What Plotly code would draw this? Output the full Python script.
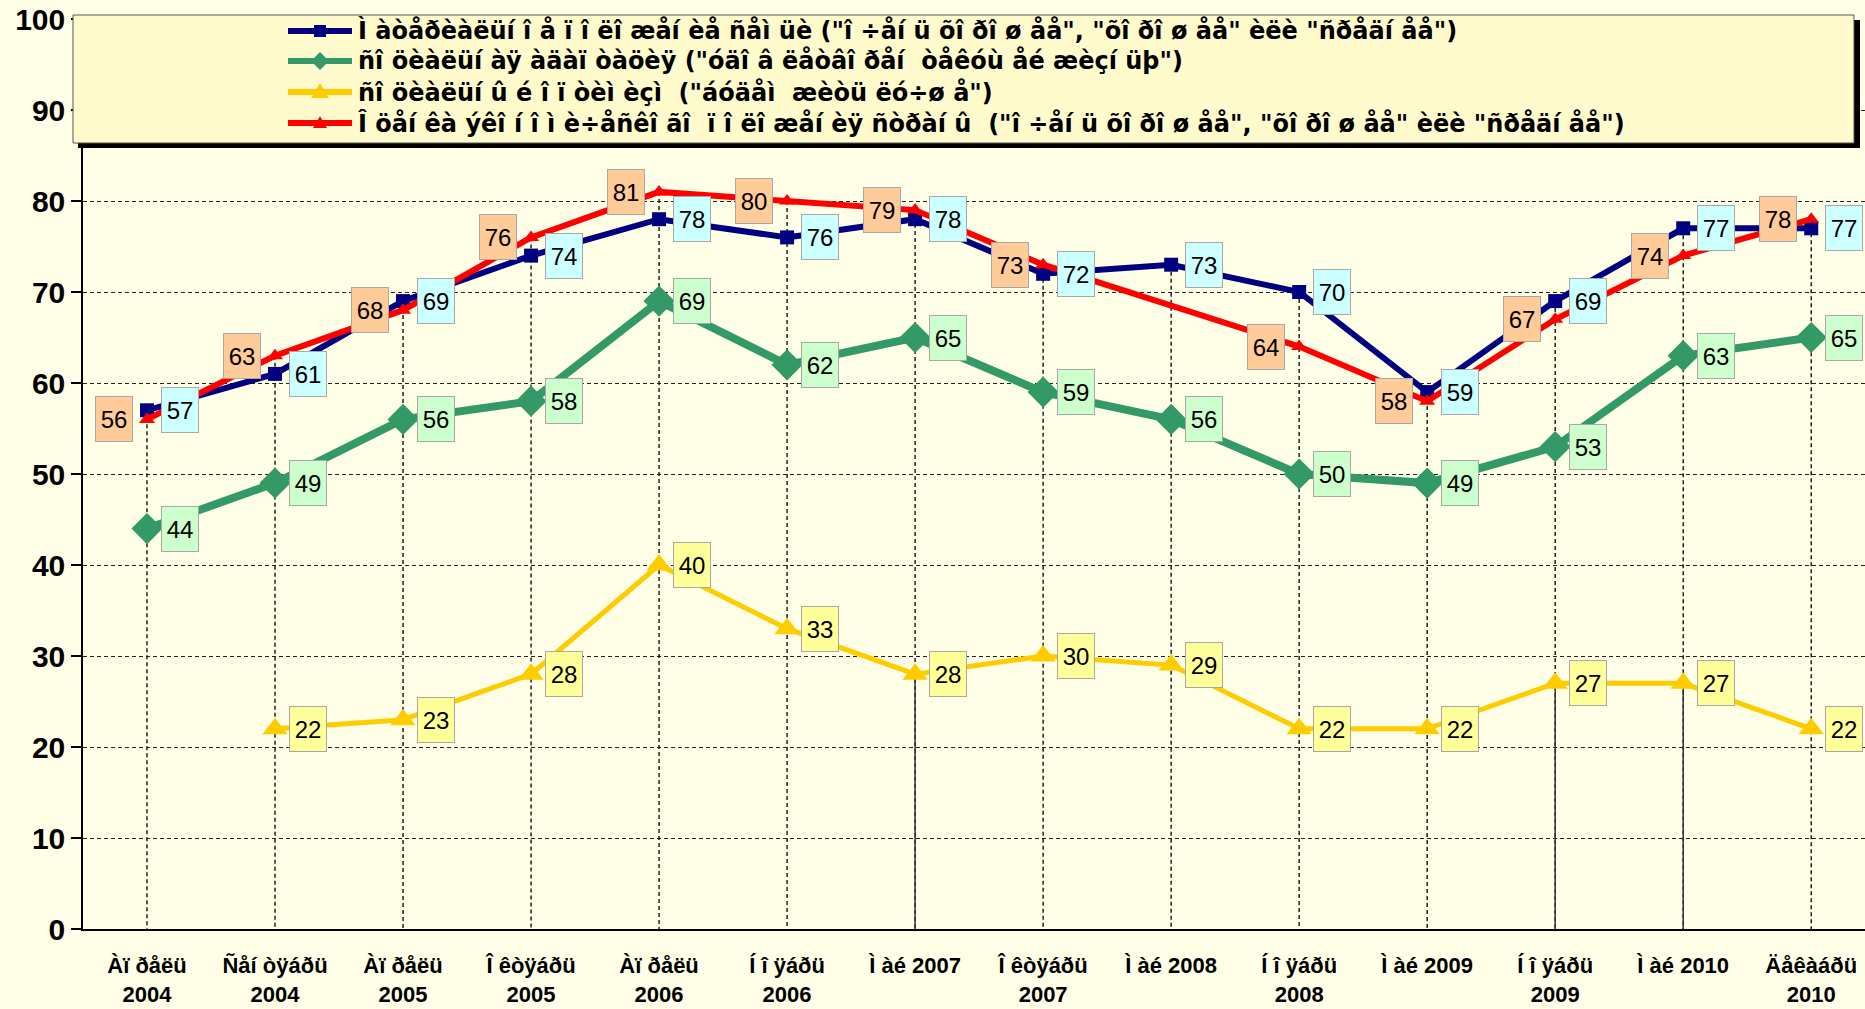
import plotly.graph_objects as go

categories = [
    "Àï ðåëü<br>2004", "Ñåí òÿáðü<br>2004", "Àï ðåëü<br>2005", "Î êòÿáðü<br>2005",
    "Àï ðåëü<br>2006", "Í î ÿáðü<br>2006", "Ì àé 2007", "Î êòÿáðü<br>2007",
    "Ì àé 2008", "Í î ÿáðü<br>2008", "Ì àé 2009", "Í î ÿáðü<br>2009",
    "Ì àé 2010", "Äåêàáðü<br>2010",
]

name_blue = 'Ì àòåðèàëüí î å ï î ëî æåí èå ñåì üè ("î ÷åí ü õî ðî ø åå", "õî ðî ø åå" èëè "ñðåäí åå")'
name_green = 'ñî öèàëüí àÿ àäàï òàöèÿ ("óäî â ëåòâî ðåí  òåêóù åé æèçí üþ")'
name_yellow = 'ñî öèàëüí û é î ï òèì èçì  ("áóäåì  æèòü ëó÷ø å")'
name_red = 'Î öåí êà ýêî í î ì è÷åñêî ãî  ï î ëî æåí èÿ ñòðàí û  ("î ÷åí ü õî ðî ø åå", "õî ðî ø åå" èëè "ñðåäí åå")'

blue = [57, 61, 69, 74, 78, 76, 78, 72, 73, 70, 59, 69, 77, 77]
green = [44, 49, 56, 58, 69, 62, 65, 59, 56, 50, 49, 53, 63, 65]
yellow = [None, 22, 23, 28, 40, 33, 28, 30, 29, 22, 22, 27, 27, 22]
red = [56, 63, 68, 76, 81, 80, 79, 73, None, 64, 58, 67, 74, 78]

solid_drop_cats = ["Ì àé 2007", "Í î ÿáðü<br>2009", "Ì àé 2010"]

y_ticks = [0, 10, 20, 30, 40, 50, 60, 70, 80, 90, 100]

idx = list(range(len(categories)))

W, H = 1865, 1009
ML, MR, MT, MB = 83, 0, 19, 80
PW, PH = W - ML - MR, H - MT - MB


def px(x):
    return (x - ML) / PW


def py(y):
    return (H - MB - y) / PH


fig = go.Figure()

# drop lines (dashed from the highest point)
dx, dy = [], []
for i in idx:
    vals = [s[i] for s in (blue, green, yellow, red) if s[i] is not None]
    dx += [i, i, None]
    dy += [max(vals), 0, None]
fig.add_trace(go.Scatter(x=dx, y=dy, mode="lines", line=dict(color="#222222", width=1.5, dash="4px,3px"),
                         showlegend=False, hoverinfo="skip"))
sx, sy = [], []
for c in solid_drop_cats:
    i = categories.index(c)
    sx += [i, i, None]
    sy += [yellow[i], 0, None]
fig.add_trace(go.Scatter(x=sx, y=sy, mode="lines", line=dict(color="#333333", width=1.5),
                         showlegend=False, hoverinfo="skip"))

series = [
    (name_blue, blue, "#000080", 6, "square", 14, "#CCFFFF", 33),
    (name_green, green, "#339966", 8, "diamond", 24, "#CCFFCC", 33),
    (name_yellow, yellow, "#FFCC00", 5, "triangle-up", 22, "#FFFF99", 33),
    (name_red, red, "#FF0000", 6, "triangle-up", 14, "#FFCC99", -33),
]

for name, vals, col, lw, sym, ms, bg, shift in series:
    fig.add_trace(go.Scatter(
        x=idx, y=vals, name=name, mode="lines+markers", connectgaps=True,
        line=dict(color=col, width=lw),
        marker=dict(symbol=sym, size=ms, color=col, line=dict(width=0)),
        showlegend=False,
    ))
    for i, v in zip(idx, vals):
        if v is None:
            continue
        fig.add_annotation(
            x=i, y=v, xref="x", yref="y", text=str(v), showarrow=False,
            xshift=shift, font=dict(family="Liberation Sans, Arial", size=24, color="black"),
            bgcolor=bg, bordercolor="#A8A8A8", borderwidth=1, borderpad=1,
            width=34, height=42,
        )

# legend box with shadow
fig.add_shape(type="rect", xref="paper", yref="paper", x0=px(78), x1=px(1860), y0=py(148), y1=py(20),
              fillcolor="black", line=dict(width=0), layer="above")
fig.add_shape(type="rect", xref="paper", yref="paper", x0=px(73), x1=px(1854), y0=py(143), y1=py(15),
              fillcolor="#FFFBCC", line=dict(color="#555555", width=1), layer="above")

# legend entries
rows_y = [31, 61, 92, 123]
sym_x0, sym_x1, text_x = 288, 352, 356
paths = {
    "square": "M-6,-6 L6,-6 L6,6 L-6,6 Z",
    "diamond": "M0,-9 L9,0 L0,9 L-9,0 Z",
    "triangle": "M0,9 L9,-6 L-9,-6 Z",
    "triangle_small": "M0,7 L7,-5 L-7,-5 Z",
}
legend_syms = ["square", "diamond", "triangle", "triangle_small"]
for (name, vals, col, lw, sym, ms, bg, shift), ry, ps in zip(series, rows_y, legend_syms):
    fig.add_shape(type="line", xref="paper", yref="paper", x0=px(sym_x0), x1=px(sym_x1),
                  y0=py(ry), y1=py(ry), line=dict(color=col, width=6), layer="above")
    fig.add_shape(type="path", xref="paper", yref="paper", xsizemode="pixel", ysizemode="pixel",
                  xanchor=px((sym_x0 + sym_x1) / 2), yanchor=py(ry), path=paths[ps],
                  fillcolor=col, line=dict(width=0), layer="above")
    fig.add_annotation(xref="paper", yref="paper", x=px(text_x), y=py(ry), xanchor="left", yanchor="middle",
                       text=name, showarrow=False,
                       font=dict(family="DejaVu Sans", size=24, color="black", weight="bold"))

fig.update_layout(
    width=W, height=H,
    margin=dict(l=ML, r=MR, t=MT, b=MB),
    paper_bgcolor="#FFFFE8", plot_bgcolor="#FFFFE8",
    showlegend=False,
    xaxis=dict(type="linear", range=[-0.5, 13.42], tickmode="array", tickvals=idx, ticktext=categories,
               showgrid=False, zeroline=False, showline=True, linecolor="black", linewidth=1.5,
               ticks="", ticklabelstandoff=16,
               tickfont=dict(family="Liberation Sans, Arial", size=22, color="black", weight="bold")),
    yaxis=dict(range=[0, 100], tickvals=y_ticks, showgrid=True, gridcolor="#222222", gridwidth=1,
               griddash="4px,3px", zeroline=False, showline=True, linecolor="black", linewidth=1.5,
               ticks="outside", ticklen=10, tickcolor="black", tickwidth=1.5,
               tickfont=dict(family="Liberation Sans, Arial", size=30, color="black", weight="bold")),
)

# x axis boundary ticks (between categories)
bx, by = [], []
for i in idx:
    bx += [i + 0.5, i + 0.5, None]
    by += [0, -1.0, None]
fig.add_trace(go.Scatter(x=bx, y=by, mode="lines", line=dict(color="black", width=1.5),
                         showlegend=False, hoverinfo="skip", cliponaxis=False))

fig.write_html("out.html", config={"displayModeBar": False},
               post_script="document.body.style.margin='0';document.body.style.overflow='hidden';")
